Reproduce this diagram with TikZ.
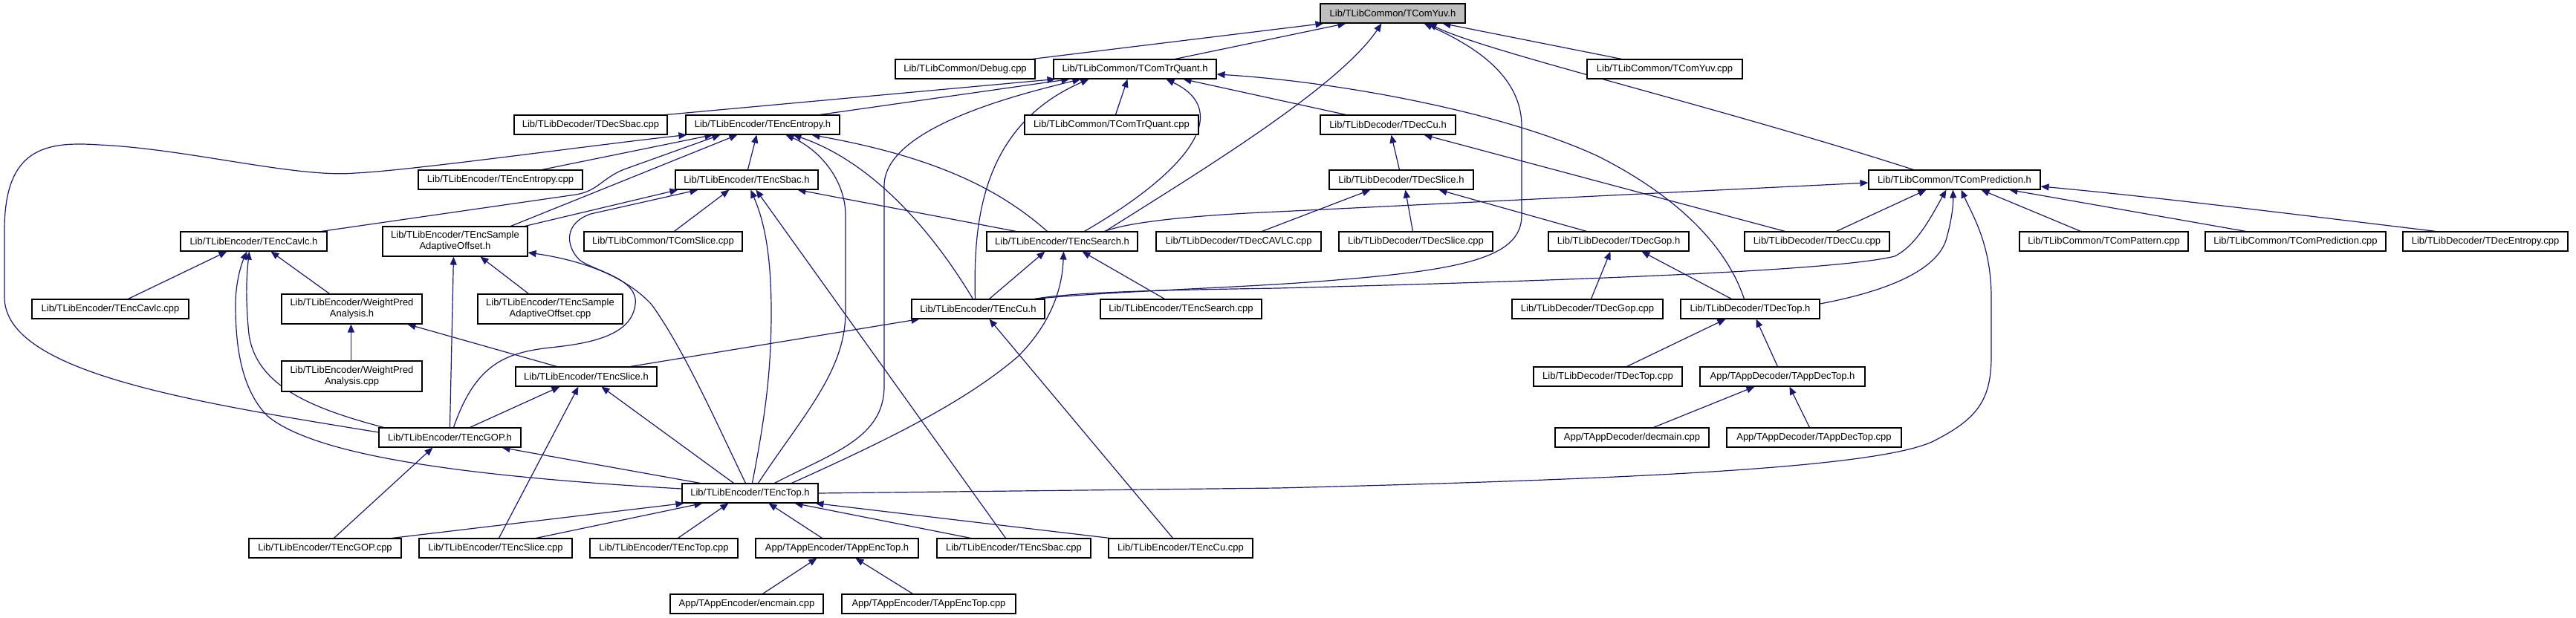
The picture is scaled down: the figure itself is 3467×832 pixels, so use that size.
\documentclass[tikz,border=0pt]{standalone}
\usepackage{fontspec}
\setmainfont{Liberation Sans}
\usetikzlibrary{arrows.meta}
\definecolor{edgec}{HTML}{191970}
\definecolor{rootfill}{HTML}{BFBFBF}
\pgfdeclarelayer{background}
\pgfsetlayers{background,main}
\newcommand\mynode[7][]{\node[box,#1,minimum width={#5pt-#3pt},minimum height={#6pt-#4pt}] (#2) at ({(#3+#5)/2},{(#4+#6)/2}) {#7};}
\newcommand\edg[4]{\draw[edgeline] ([xshift=#2pt]#1.north west) -- ([xshift=#4pt]#3.south west);}
\begin{document}
\begin{tikzpicture}[x=1pt,y=-1pt,
  box/.style={draw=black,line width=1.1pt,fill=white,inner sep=0pt,align=center,font=\fontsize{13}{15}\selectfont},
  edgeline/.style={draw=edgec,line width=1.2pt,-{Triangle[length=11pt,width=9pt]}}]
\useasboundingbox (0,0) rectangle (3467,832);
% nodes
\mynode[fill=rootfill]{yuvh}{1777}{5}{1972}{31}{Lib/TLibCommon/TComYuv.h}
\mynode{debug}{1205}{80}{1393}{106}{Lib/TLibCommon/Debug.cpp}
\mynode{trq}{1418}{80}{1637}{106}{Lib/TLibCommon/TComTrQuant.h}
\mynode{yuvcpp}{2136}{80}{2345}{106}{Lib/TLibCommon/TComYuv.cpp}
\mynode{dsbac}{692}{155}{898}{181}{Lib/TLibDecoder/TDecSbac.cpp}
\mynode{eenth}{923}{155}{1130}{181}{Lib/TLibEncoder/TEncEntropy.h}
\mynode{trqcpp}{1379}{155}{1613}{181}{Lib/TLibCommon/TComTrQuant.cpp}
\mynode{dcuh}{1777}{155}{1959}{181}{Lib/TLibDecoder/TDecCu.h}
\mynode{eentcpp}{563}{229}{784}{255}{Lib/TLibEncoder/TEncEntropy.cpp}
\mynode{esbach}{909}{229}{1101}{255}{Lib/TLibEncoder/TEncSbac.h}
\mynode{dsliceh}{1789}{229}{1983}{255}{Lib/TLibDecoder/TDecSlice.h}
\mynode{predh}{2515}{229}{2746}{255}{Lib/TLibCommon/TComPrediction.h}
\mynode{ecavlch}{243}{312}{440}{338}{Lib/TLibEncoder/TEncCavlc.h}
\mynode{saoh}{515}{305}{710}{345}{Lib/TLibEncoder/TEncSample\\AdaptiveOffset.h}
\mynode{cslicecpp}{786}{312}{999}{338}{Lib/TLibCommon/TComSlice.cpp}
\mynode{esearchh}{1328}{312}{1531}{338}{Lib/TLibEncoder/TEncSearch.h}
\mynode{dcavlccpp}{1556}{312}{1778}{338}{Lib/TLibDecoder/TDecCAVLC.cpp}
\mynode{dslicecpp}{1802}{312}{2009}{338}{Lib/TLibDecoder/TDecSlice.cpp}
\mynode{dgoph}{2084}{312}{2273}{338}{Lib/TLibDecoder/TDecGop.h}
\mynode{dcucpp}{2348}{312}{2543}{338}{Lib/TLibDecoder/TDecCu.cpp}
\mynode{compat}{2718}{312}{2945}{338}{Lib/TLibCommon/TComPattern.cpp}
\mynode{compredcpp}{2968}{312}{3211}{338}{Lib/TLibCommon/TComPrediction.cpp}
\mynode{dentcpp}{3234}{312}{3456}{338}{Lib/TLibDecoder/TDecEntropy.cpp}
\mynode{ecavlccpp}{43}{403}{254}{429}{Lib/TLibEncoder/TEncCavlc.cpp}
\mynode{wpah}{379}{396}{568}{436}{Lib/TLibEncoder/WeightPred\\Analysis.h}
\mynode{saocpp}{643}{396}{838}{436}{Lib/TLibEncoder/TEncSample\\AdaptiveOffset.cpp}
\mynode{ecuh}{1227}{403}{1406}{429}{Lib/TLibEncoder/TEncCu.h}
\mynode{esearchcpp}{1481}{403}{1698}{429}{Lib/TLibEncoder/TEncSearch.cpp}
\mynode{dgopcpp}{2035}{403}{2238}{429}{Lib/TLibDecoder/TDecGop.cpp}
\mynode{dtoph}{2262}{403}{2449}{429}{Lib/TLibDecoder/TDecTop.h}
\mynode{wpacpp}{379}{486}{568}{527}{Lib/TLibEncoder/WeightPred\\Analysis.cpp}
\mynode{eslicech}{694}{494}{884}{520}{Lib/TLibEncoder/TEncSlice.h}
\mynode{dtopcpp}{2064}{494}{2264}{520}{Lib/TLibDecoder/TDecTop.cpp}
\mynode{appdech}{2288}{494}{2510}{520}{App/TAppDecoder/TAppDecTop.h}
\mynode{egoph}{510}{576}{701}{602}{Lib/TLibEncoder/TEncGOP.h}
\mynode{decmain}{2093}{576}{2300}{602}{App/TAppDecoder/decmain.cpp}
\mynode{appdeccpp}{2324}{576}{2559}{602}{App/TAppDecoder/TAppDecTop.cpp}
\mynode{etoph}{918}{651}{1101}{677}{Lib/TLibEncoder/TEncTop.h}
\mynode{egopcpp}{335}{725}{540}{751}{Lib/TLibEncoder/TEncGOP.cpp}
\mynode{eslicecpp}{564}{725}{770}{751}{Lib/TLibEncoder/TEncSlice.cpp}
\mynode{etopcpp}{794}{725}{993}{751}{Lib/TLibEncoder/TEncTop.cpp}
\mynode{appench}{1017}{725}{1236}{751}{App/TAppEncoder/TAppEncTop.h}
\mynode{esbaccpp}{1261}{725}{1468}{751}{Lib/TLibEncoder/TEncSbac.cpp}
\mynode{ecucpp}{1492}{725}{1686}{751}{Lib/TLibEncoder/TEncCu.cpp}
\mynode{encmain}{902}{800}{1108}{826}{App/TAppEncoder/encmain.cpp}
\mynode{appenccpp}{1133}{800}{1367}{826}{App/TAppEncoder/TAppEncTop.cpp}
\begin{pgfonlayer}{background}
\fill[white] (0,0) rectangle (3467,832);
% straight edges
\edg{debug}{185}{yuvh}{5}
\edg{trq}{164}{yuvh}{35}
\edg{yuvcpp}{47}{yuvh}{165}
\edg{dsbac}{205}{trq}{3}
\edg{eenth}{181}{trq}{22}
\edg{trqcpp}{123}{trq}{100}
\edg{dcuh}{35}{trq}{175}
\edg{eentcpp}{167}{eenth}{37}
\edg{saoh}{173}{eenth}{70}
\edg{esbach}{98}{eenth}{96}
\edg{saoh}{192}{esbach}{4}
\edg{cslicecpp}{122}{esbach}{73}
\edg{esbaccpp}{93}{esbach}{109}
\edg{esearchh}{40}{esbach}{165}
\edg{ecuh}{105}{esearchh}{79}
\edg{esearchcpp}{87}{esearchh}{129}
\edg{eslicech}{155}{ecuh}{11}
\edg{ecucpp}{87}{ecuh}{105}
\edg{egoph}{123}{eslicech}{60}
\edg{eslicecpp}{108}{eslicech}{85}
\edg{etoph}{70}{eslicech}{116}
\edg{eslicech}{56}{wpah}{170}
\edg{wpacpp}{94}{wpah}{94}
\edg{wpah}{65}{ecavlch}{122}
\edg{ecavlccpp}{130}{ecavlch}{63}
\edg{egoph}{96}{saoh}{96}
\edg{saocpp}{69}{saoh}{132}
\edg{egopcpp}{115}{egoph}{73}
\edg{etoph}{25}{egoph}{166}
\edg{egopcpp}{193}{etoph}{3}
\edg{eslicecpp}{158}{etoph}{28}
\edg{etopcpp}{119}{etoph}{63}
\edg{appench}{90}{etoph}{117}
\edg{esbaccpp}{46}{etoph}{152}
\edg{ecucpp}{2}{etoph}{180}
\edg{encmain}{125}{appench}{83}
\edg{appenccpp}{96}{appench}{135}
\edg{dsliceh}{95}{dcuh}{96}
\edg{dcucpp}{55}{dcuh}{140}
\edg{dcavlccpp}{143}{dsliceh}{56}
\edg{dslicecpp}{100}{dsliceh}{103}
\edg{dgoph}{52}{dsliceh}{148}
\edg{dgopcpp}{107}{dgoph}{84}
\edg{dtoph}{69}{dgoph}{126}
\edg{dtopcpp}{126}{dtoph}{61}
\edg{appdech}{105}{dtoph}{102}
\edg{dcucpp}{124}{predh}{78}
\edg{decmain}{133}{appdech}{74}
\edg{appdeccpp}{112}{appdech}{121}
\edg{compat}{83}{predh}{152}
\edg{compredcpp}{55}{predh}{190}
\draw[edgeline] ([xshift=45pt]dentcpp.north west) .. controls (3100,290) and (2900,265) .. ([yshift=-9pt]predh.east);
% curved edges
\draw[edgeline] ([xshift=160pt]esearchh.north west) .. controls (1600,240) and (1800,120) .. ([xshift=83pt]yuvh.south west);
\draw[edgeline] ([xshift=166pt]ecuh.north west) .. controls (1500,392) and (1650,388) .. (1760,380) .. controls (1960,365) and (2048,350) .. (2048,290) -- (2048,170) .. controls (2048,100) and (1980,60) .. ([xshift=140pt]yuvh.south west);
\draw[edgeline] ([xshift=61pt]predh.north west) .. controls (2300,140) and (2000,70) .. ([xshift=146pt]yuvh.south west);
\draw[edgeline] ([xshift=86pt]dtoph.north west) .. controls (2320,320) and (2240,255) .. (2150,210) .. controls (2020,150) and (1800,110) .. ([yshift=-7pt]trq.east);
\draw[edgeline] ([xshift=125pt]etoph.north west) .. controls (1120,610) and (1190,590) .. (1190,520) -- (1190,250) .. controls (1190,170) and (1380,125) .. ([xshift=37pt]trq.south west);
\draw[edgeline] ([xshift=86pt]ecuh.north west) .. controls (1310,300) and (1320,170) .. ([xshift=48pt]trq.south west);
\draw[edgeline] ([xshift=132pt]esearchh.north west) .. controls (1600,230) and (1660,150) .. ([xshift=152pt]trq.south west);
\draw[edgeline] ([yshift=7pt]egoph.west) .. controls (250,540) and (6,500) .. (6,400) -- (6,310) .. controls (6,200) and (60,190) .. (133,195) .. controls (250,200) and (400,240) .. (478,233) .. controls (550,230) and (800,195) .. ([xshift=2pt]eenth.south west);
\draw[edgeline] ([xshift=190pt]ecavlch.north west) -- (775,262) .. controls (805,257) and (810,240) .. (840,228) -- ([xshift=47pt]eenth.south west);
\draw[edgeline] ([xshift=103pt]etoph.north west) .. controls (1080,560) and (1138,500) .. (1138,420) -- (1138,290) .. controls (1138,240) and (1100,200) .. ([xshift=135pt]eenth.south west);
\draw[edgeline] ([xshift=83pt]ecuh.north west) .. controls (1260,320) and (1180,220) .. ([xshift=145pt]eenth.south west);
\draw[edgeline] ([xshift=82pt]esearchh.north west) .. controls (1340,250) and (1250,210) .. ([xshift=170pt]eenth.south west);
\draw[edgeline] ([xshift=101pt]egoph.north west) .. controls (640,490) and (680,475) .. (740,468) .. controls (800,462) and (850,450) .. (855,410) .. controls (860,375) and (800,365) .. (780,350) .. controls (760,330) and (760,300) .. (795,288) -- ([xshift=31pt]esbach.south west);
\draw[edgeline] ([xshift=95pt]etoph.north west) .. controls (1030,560) and (1038,500) .. (1038,420) .. controls (1038,330) and (1025,290) .. ([xshift=102pt]esbach.south west);
\draw[edgeline] ([xshift=148pt]etoph.north west) .. controls (1200,590) and (1300,540) .. (1370,480) .. controls (1420,430) and (1430,380) .. ([xshift=104pt]esearchh.south west);
\draw[edgeline] ([xshift=159pt]esearchh.north west) .. controls (1530,295) and (1650,288) .. (1720,285) -- ([yshift=-4pt]predh.west);
\draw[edgeline] ([xshift=166pt]ecuh.north west) .. controls (1450,392) and (1600,390) .. (1720,388) .. controls (2100,378) and (2470,365) .. (2550,345) .. controls (2580,330) and (2600,290) .. ([xshift=105pt]predh.south west);
\draw[edgeline] ([yshift=6pt]etoph.west) .. controls (600,640) and (420,610) .. (360,560) .. controls (320,520) and (317,450) .. (317,410) .. controls (317,380) and (325,355) .. ([xshift=90pt]ecavlch.south west);
\draw[edgeline] ([xshift=7pt]egoph.north west) .. controls (420,550) and (345,520) .. (335,450) .. controls (330,400) and (332,370) .. ([xshift=93pt]ecavlch.south west);
\draw[edgeline] ([xshift=86pt]etoph.north west) .. controls (960,560) and (920,470) .. (877,410) .. controls (840,370) and (780,350) .. ([yshift=-15pt]saoh.east);
\draw[edgeline] (etoph.east) -- (1720,657) .. controls (2200,645) and (2520,630) .. (2600,595) .. controls (2660,565) and (2680,540) .. (2680,480) -- (2680,400) .. controls (2680,330) and (2655,290) .. ([xshift=125pt]predh.south west);
\draw[edgeline] ([yshift=7pt]dtoph.east) .. controls (2550,390) and (2610,360) .. (2620,320) .. controls (2627,295) and (2629,275) .. ([xshift=114pt]predh.south west);
\end{pgfonlayer}
\end{tikzpicture}
\end{document}
